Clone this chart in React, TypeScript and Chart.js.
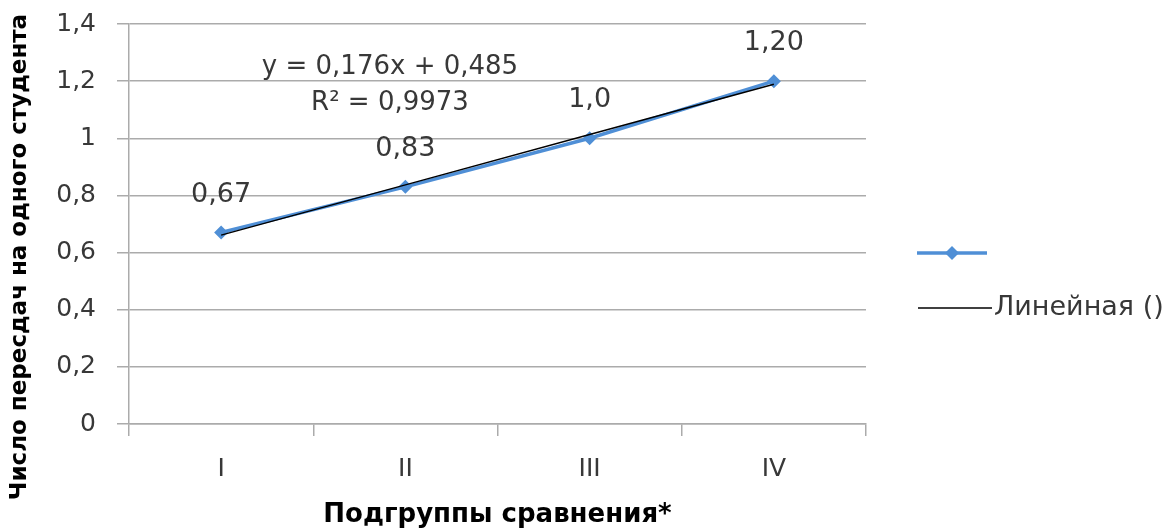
import { useEffect, useRef } from 'react';
import { Chart, registerables } from 'chart.js';

Chart.register(...registerables);

const categories = ['I', 'II', 'III', 'IV'];
const seriesValues = [0.67, 0.83, 1.0, 1.2];
const pointLabels = ['0,67', '0,83', '1,0', '1,20'];
const trendValues = [0.661, 0.837, 1.013, 1.189];
const trendEquation = 'y = 0,176x + 0,485';
const trendR2 = 'R² = 0,9973';
const seriesLabel = '';
const trendLabel = 'Линейная ()';
const xTitle = 'Подгруппы сравнения*';
const yTitle = 'Число пересдач на одного студента';

const FONT = '"DejaVu Sans", sans-serif';
const BLUE = '#4F8FD6';
const GRID = '#ababab';
const TEXT = '#383838';

const overlay = {
  id: 'overlay',
  afterDatasetsDraw(chart: any) {
    const ctx = chart.ctx;
    const meta = chart.getDatasetMeta(0);
    ctx.save();
    ctx.font = `27px ${FONT}`;
    ctx.fillStyle = TEXT;
    ctx.textAlign = 'center';
    ctx.textBaseline = 'middle';
    meta.data.forEach((pt: any, i: number) => {
      ctx.fillText(pointLabels[i], pt.x, pt.y - 38);
    });
    ctx.restore();
  },
  afterDraw(chart: any) {
    const ctx = chart.ctx;
    const area = chart.chartArea;
    ctx.save();
    // trendline equation
    ctx.font = `26px ${FONT}`;
    ctx.fillStyle = TEXT;
    ctx.textAlign = 'center';
    ctx.textBaseline = 'middle';
    ctx.fillText(trendEquation, 390, 67);
    ctx.fillText(trendR2, 390, 103);

    // axis titles
    ctx.fillStyle = '#000';
    ctx.font = `bold 26px ${FONT}`;
    ctx.fillText(xTitle, (area.left + area.right) / 2, 515);
    ctx.font = `bold 23px ${FONT}`;
    ctx.save();
    ctx.translate(20, 257);
    ctx.rotate(-Math.PI / 2);
    ctx.fillText(yTitle, 0, 0);
    ctx.restore();

    // legend
    const ds = chart.data.datasets;
    ctx.lineCap = 'butt';
    ctx.strokeStyle = ds[0].borderColor;
    ctx.lineWidth = 3.5;
    ctx.beginPath();
    ctx.moveTo(917, 253);
    ctx.lineTo(987, 253);
    ctx.stroke();
    ctx.fillStyle = ds[0].pointBackgroundColor;
    ctx.beginPath();
    ctx.moveTo(952, 246);
    ctx.lineTo(959, 253);
    ctx.lineTo(952, 260);
    ctx.lineTo(945, 253);
    ctx.closePath();
    ctx.fill();
    ctx.fillStyle = TEXT;
    ctx.font = `27px ${FONT}`;
    ctx.textAlign = 'left';
    ctx.fillText(ds[0].label, 994, 253);

    ctx.strokeStyle = ds[1].borderColor;
    ctx.lineWidth = 1.5;
    ctx.beginPath();
    ctx.moveTo(918, 308);
    ctx.lineTo(992, 308);
    ctx.stroke();
    ctx.fillText(ds[1].label, 994, 308);
    ctx.restore();
  },
};

export default function App() {
  const ref = useRef<HTMLCanvasElement | null>(null);

  useEffect(() => {
    document.body.style.margin = '0';
    const canvas = ref.current;
    if (!canvas) return;
    const chart = new Chart(canvas, {
      type: 'line',
      data: {
        labels: categories,
        datasets: [
          {
            label: seriesLabel,
            data: seriesValues,
            borderColor: BLUE,
            backgroundColor: BLUE,
            pointBackgroundColor: BLUE,
            pointBorderColor: BLUE,
            borderWidth: 3.5,
            pointStyle: 'rectRot',
            pointRadius: 7,
            pointBorderWidth: 0,
            tension: 0,
            order: 2,
          },
          {
            label: trendLabel,
            data: trendValues,
            borderColor: '#000000',
            backgroundColor: '#000000',
            borderWidth: 1.5,
            pointRadius: 0,
            tension: 0,
            order: 1,
          },
        ],
      },
      options: {
        responsive: false,
        animation: false,
        devicePixelRatio: 1,
        layout: { padding: { top: 24, right: 300, bottom: 0, left: 0 } },
        plugins: {
          legend: { display: false },
          tooltip: { enabled: false },
        },
        scales: {
          x: {
            type: 'category',
            offset: true,
            grid: {
              offset: true,
              drawOnChartArea: false,
              drawTicks: true,
              tickLength: 12,
              color: GRID,
              lineWidth: 1.5,
            },
            border: { display: true, color: GRID, width: 1.5 },
            ticks: {
              color: TEXT,
              font: { family: FONT, size: 25 },
              padding: 18,
              maxRotation: 0,
            },
            afterFit(scale: any) {
              scale.height = 105;
              scale.paddingLeft = 0;
              scale.paddingRight = 0;
            },
          },
          y: {
            min: 0,
            max: 1.4,
            grid: {
              color: GRID,
              lineWidth: 1.5,
              drawTicks: true,
              tickLength: 12,
            },
            border: { display: true, color: GRID, width: 1.5 },
            ticks: {
              stepSize: 0.2,
              color: TEXT,
              font: { family: FONT, size: 25 },
              padding: 21,
              callback: (v: any) => String(Math.round(Number(v) * 10) / 10).replace('.', ','),
            },
            afterFit(scale: any) {
              scale.width = 129;
              scale.paddingTop = 0;
              scale.paddingBottom = 0;
            },
          },
        },
      },
      plugins: [overlay],
    });
    return () => chart.destroy();
  }, []);

  return (
    <div style={{ width: 1166, height: 529, background: '#fff' }}>
      <canvas ref={ref} width={1166} height={529} style={{ display: 'block' }} />
    </div>
  );
}
